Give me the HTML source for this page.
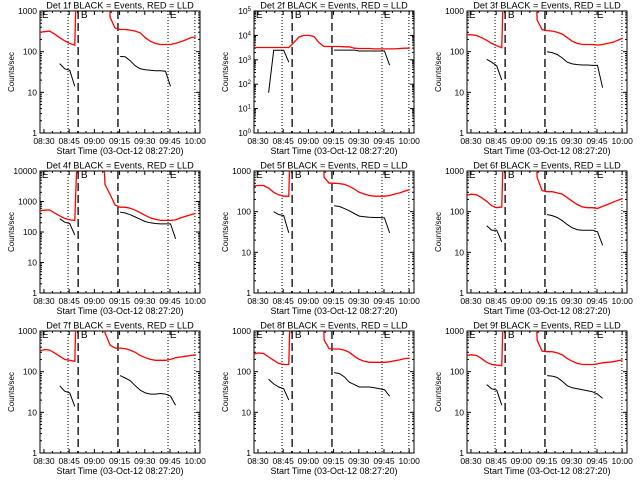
<!DOCTYPE html>
<html><head><meta charset="utf-8"><style>
html,body{margin:0;padding:0;background:#fff;}
svg{display:block;font-family:"Liberation Sans",sans-serif;}
</style></head><body>
<svg id="chart" width="640" height="480" viewBox="0 0 640 480" xmlns="http://www.w3.org/2000/svg">
<rect x="0" y="0" width="640" height="480" fill="#fff"/>
</svg>
<script>
// time grid: minutes after 08:27:20
const T = [0,3,6,9,12,15,18,21,24,27,30,33,36,39,42,45,48,51,54,57,60,63,66,69,72,75,78,81,84,87,90,93];
const XTICK_LABELS = ['08:30','08:45','09:00','09:15','09:30','09:45','10:00'];
const DET_NAMES = ['1f','2f','3f','4f','5f','6f','7f','8f','9f'];
const Y_DECADES = [3,5,3,4,3,3,3,3,3];
const MARK_DOTTED = [17,76.5,92.5];
const MARK_DASHED = [23,46.7];
const N = null, S = 1e7;
const red1 = [300,310,320,270,220,185,160,145,S,S,S,S,S,S,700,380,350,350,340,320,290,220,180,160,150,150,150,160,175,195,220,230];
const black1 = [N,N,N,N,51,38,35,14,N,N,N,N,N,N,N,N,76,75,60,45,38,36,35,34,34,33,14,N,N,N,N,N];
const red2 = [3200,3200,3200,3200,3200,3200,3200,3200,5000,8500,10000,10000,9000,5000,3500,3500,3500,3500,3400,3400,3000,2900,2900,2900,2800,2800,2800,2800,2800,2900,3000,3000];
const black2 = [N,N,N,45,2450,2450,2450,800,N,N,N,N,N,N,N,N,2500,2500,2500,2500,2500,2300,2300,2300,2300,2300,2300,600,N,N,N,N];
const red3 = [260,260,250,220,190,160,140,125,S,S,S,S,S,S,600,350,330,320,300,270,220,180,160,150,150,150,145,150,160,170,190,215];
const black3 = [N,N,N,N,65,55,45,20,N,N,N,N,N,N,N,N,100,95,85,70,55,50,48,47,47,46,46,13,N,N,N,N];
const red4 = [500,520,530,420,340,280,250,240,S,S,S,S,S,3600,1700,770,650,650,600,520,430,350,290,260,240,240,240,250,290,330,370,410];
const black4 = [N,N,N,N,270,210,190,80,N,N,N,N,N,N,N,N,450,420,370,310,260,220,200,190,185,185,185,60,N,N,N,N];
const red5 = [430,440,440,380,300,260,240,240,S,S,S,S,S,S,700,500,500,490,470,420,360,300,270,250,240,240,240,250,270,290,320,350];
const black5 = [N,N,N,N,100,85,80,30,N,N,N,N,N,N,N,N,140,135,120,105,90,78,75,73,72,72,70,30,N,N,N,N];
const red6 = [250,270,260,220,180,140,125,130,S,S,S,S,S,S,700,330,310,310,290,270,220,180,150,130,125,125,120,135,150,170,190,210];
const black6 = [N,N,N,N,45,35,35,18,N,N,N,N,N,N,N,N,85,80,72,60,48,40,36,35,35,35,32,15,N,N,N,N];
const red7 = [320,350,340,290,240,200,190,180,S,S,S,S,S,900,450,380,380,370,340,300,250,220,200,190,190,190,200,220,230,240,250,260];
const black7 = [N,N,N,N,45,33,30,14,N,N,N,N,N,N,N,N,80,70,60,45,35,30,28,28,29,28,25,15,N,N,N,N];
const red8 = [270,290,280,230,190,160,150,150,S,S,S,S,S,S,600,370,360,360,340,300,240,200,180,170,170,170,170,175,185,195,210,215];
const black8 = [N,N,N,65,50,42,38,20,N,N,N,N,N,N,N,N,95,90,75,55,48,42,42,42,40,38,36,25,N,N,N,N];
const red9 = [250,260,250,210,170,150,145,140,S,S,S,S,S,S,600,320,310,310,290,260,210,180,160,150,150,150,155,165,170,175,185,195];
const black9 = [N,N,N,N,48,38,35,15,N,N,N,N,N,N,N,N,80,78,72,58,45,40,38,36,34,32,28,22,N,N,N,N];
const REDS = [red1,red2,red3,red4,red5,red6,red7,red8,red9];
const BLACKS = [black1,black2,black3,black4,black5,black6,black7,black8,black9];

const NS = 'http://www.w3.org/2000/svg';
const svg = document.getElementById('chart');
const BL = 40, BR = 200, BT = 11, BB = 133;
const OX = [0,214,427], OY = [0,160,320];
function el(tag, attrs, parent){ const e=document.createElementNS(NS,tag); for(const k in attrs) e.setAttribute(k,attrs[k]); parent.appendChild(e); return e; }
function xs(t){ return 39.5 + 1.68*t; }
function labelMin(s){ const p=s.split(':'); return (+p[0])*60 + (+p[1]) - (8*60+27+20/60); }

for (let p=0;p<9;p++){
  const dec = Y_DECADES[p];
  const ys = v => BB - (Math.log10(v)/dec)*(BB-BT);
  const g = el('g',{transform:`translate(${OX[p%3]},${OY[Math.floor(p/3)]})`},svg);
  
  
  const clipId='clip'+p;
  const cp = el('clipPath',{id:clipId},g);
  el('rect',{x:BL,y:BT,width:BR-BL,height:BB-BT},cp);
  // title
  const title = el('text',{x:120,y:8.5,'font-size':9.2,'text-anchor':'middle',fill:'#000'},g);
  title.textContent='Det '+DET_NAMES[p]+' BLACK = Events, RED = LLD';
  
  
  // box
  const box = el('rect',{x:BL,y:BT,width:BR-BL,height:BB-BT,fill:'none',stroke:'#000','stroke-width':1},g);
  
  
  // y ticks
  for(let d=0; d<=dec; d++){
    const y = ys(Math.pow(10,d));
    el('line',{x1:BL,x2:BL+4,y1:y,y2:y,stroke:'#000'},g);
    el('line',{x1:BR,x2:BR-4,y1:y,y2:y,stroke:'#000'},g);
    const lab = el('text',{x:37,y:y+3,'font-size':8.5,'text-anchor':'end',fill:'#000'},g);
    if(dec===5){ lab.textContent='10'; const sup=el('tspan',{dy:-3,'font-size':6},lab); sup.textContent=String(d); }
    else lab.textContent=String(Math.pow(10,d));
    
    
    if(d<dec){ for(let m=2;m<=9;m++){ const ym=ys(m*Math.pow(10,d));
      el('line',{x1:BL,x2:BL+2,y1:ym,y2:ym,stroke:'#000'},g);
      el('line',{x1:BR,x2:BR-2,y1:ym,y2:ym,stroke:'#000'},g);} }
  }
  // x ticks
  XTICK_LABELS.forEach(s=>{
    const x = xs(labelMin(s));
    el('line',{x1:x,x2:x,y1:BB,y2:BB-4,stroke:'#000'},g);
    el('line',{x1:x,x2:x,y1:BT,y2:BT+4,stroke:'#000'},g);
    for(let k=1;k<3;k++){ const xm=xs(labelMin(s)+5*k); if(xm<BR){
      el('line',{x1:xm,x2:xm,y1:BB,y2:BB-2,stroke:'#000'},g);
      el('line',{x1:xm,x2:xm,y1:BT,y2:BT+2,stroke:'#000'},g);} }
    const lab = el('text',{x:x,y:144,'font-size':8.5,'text-anchor':'middle',fill:'#000'},g);
    lab.textContent=s;
    
    
  });
  const xt = el('text',{x:120,y:154,'font-size':9,'text-anchor':'middle',fill:'#000'},g);
  xt.textContent='Start Time (03-Oct-12 08:27:20)';
  
  
  const yt = el('text',{x:0,y:0,'font-size':8,'text-anchor':'middle',fill:'#000',transform:'translate(14,72) rotate(-90)'},g);
  yt.textContent='Counts/sec';
  
  
  // marker lines
  MARK_DOTTED.forEach(t=>{ const l=el('line',{x1:xs(t),x2:xs(t),y1:BT,y2:BB,stroke:'#000','stroke-width':1,'stroke-dasharray':'1 2'},g);
    
     });
  MARK_DASHED.forEach(t=>{ const l=el('line',{x1:xs(t),x2:xs(t),y1:BT,y2:BB,stroke:'#000','stroke-width':1.3,'stroke-dasharray':'8 4'},g);
    
     });
  [['E',0.8],['B',24],['E',77]].forEach(([c,t])=>{ const tx=el('text',{x:xs(t)+1,y:BT+7,'font-size':10,fill:'#000'},g);
    tx.textContent=c;
    
     });
  // series
  function series(vals,color,name,w){
    let segs=[], cur=[];
    vals.forEach((v,i)=>{ if(v===null){ if(cur.length) segs.push(cur); cur=[]; } else cur.push(xs(T[i]).toFixed(1)+','+ys(v).toFixed(1)); });
    if(cur.length) segs.push(cur);
    segs.forEach(sg=>{ const pl=el('polyline',{points:sg.join(' '),fill:'none',stroke:color,'stroke-width':w,'clip-path':`url(#${clipId})`},g);
      
       });
  }
  series(REDS[p],'#ff0000','lld-series-red',1.3);
  series(BLACKS[p],'#000000','events-series-black',1);
}
</script>
</body></html>
